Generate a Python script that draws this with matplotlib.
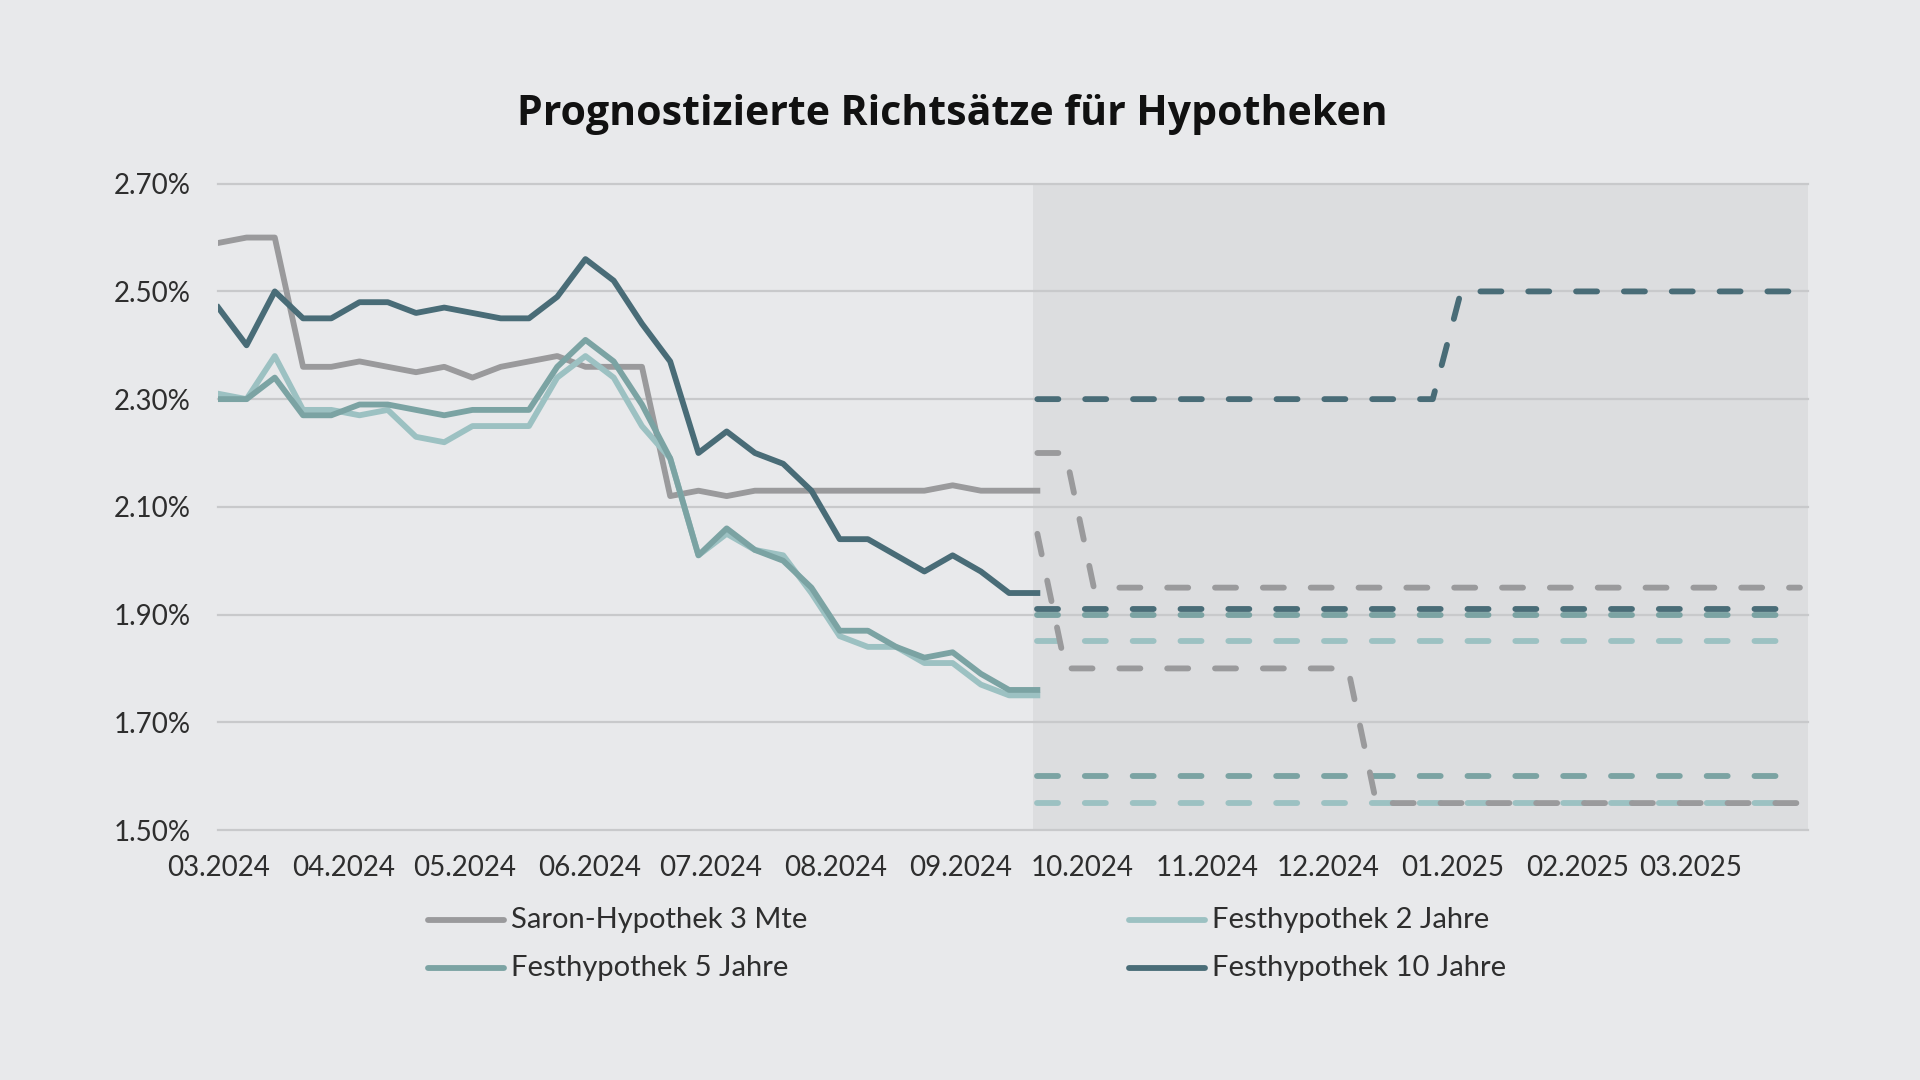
import matplotlib
matplotlib.use('Agg')
import matplotlib.pyplot as plt
import matplotlib.dates as mdates
from matplotlib.lines import Line2D
from matplotlib.ticker import FuncFormatter
import pandas as pd

plt.rcParams['font.family'] = ['Lato', 'DejaVu Sans']

# weekly reference rates (Fridays), 01.03.2024 - 20.09.2024
weeks = pd.date_range('2024-03-01', '2024-09-20', freq='7D')
saron = [2.59, 2.60, 2.60, 2.36, 2.36, 2.37, 2.36, 2.35, 2.36, 2.34,
         2.36, 2.37, 2.38, 2.36, 2.36, 2.36, 2.12, 2.13, 2.12, 2.13,
         2.13, 2.13, 2.13, 2.13, 2.13, 2.13, 2.14, 2.13, 2.13, 2.13]
fest_2 = [2.31, 2.30, 2.38, 2.28, 2.28, 2.27, 2.28, 2.23, 2.22, 2.25,
          2.25, 2.25, 2.34, 2.38, 2.34, 2.25, 2.19, 2.01, 2.05, 2.02,
          2.01, 1.94, 1.86, 1.84, 1.84, 1.81, 1.81, 1.77, 1.75, 1.75]
fest_5 = [2.30, 2.30, 2.34, 2.27, 2.27, 2.29, 2.29, 2.28, 2.27, 2.28,
          2.28, 2.28, 2.36, 2.41, 2.37, 2.29, 2.19, 2.01, 2.06, 2.02,
          2.00, 1.95, 1.87, 1.87, 1.84, 1.82, 1.83, 1.79, 1.76, 1.76]
fest_10 = [2.47, 2.40, 2.50, 2.45, 2.45, 2.48, 2.48, 2.46, 2.47, 2.46,
           2.45, 2.45, 2.49, 2.56, 2.52, 2.44, 2.37, 2.20, 2.24, 2.20,
           2.18, 2.13, 2.04, 2.04, 2.01, 1.98, 2.01, 1.98, 1.94, 1.94]

# forecast scenarios (only the corner points of each path)
fc_saron_hi_dates = ['2024-09-20', '2024-09-27', '2024-10-04', '2025-03-28']
fc_saron_hi = [2.20, 2.20, 1.95, 1.95]
fc_saron_lo_dates = ['2024-09-20', '2024-09-27', '2024-12-06', '2024-12-13', '2025-03-28']
fc_saron_lo = [2.05, 1.80, 1.80, 1.55, 1.55]
fc_10_hi_dates = ['2024-09-20', '2024-12-27', '2025-01-03', '2025-03-28']
fc_10_hi = [2.30, 2.30, 2.50, 2.50]
fc_flat_dates = ['2024-09-20', '2025-03-28']
fc_10_lo = [1.91, 1.91]
fc_5_hi = [1.90, 1.90]
fc_5_lo = [1.60, 1.60]
fc_2_hi = [1.85, 1.85]
fc_2_lo = [1.55, 1.55]

forecast_start = '2024-09-19'
y_ticks = [1.50, 1.70, 1.90, 2.10, 2.30, 2.50, 2.70]

labels = ['Saron-Hypothek 3 Mte', 'Festhypothek 2 Jahre',
          'Festhypothek 5 Jahre', 'Festhypothek 10 Jahre']

BG = '#e8e9eb'
SHADE = '#dcdddf'
GRID = '#c8c9cb'
C_SARON = '#9a9a9c'
C_2 = '#9cc1c2'
C_5 = '#7ba3a3'
C_10 = '#496c77'
TXT = '#2e2e2e'

LW = 4.2
DASH = (3.6, 4.6)

fig = plt.figure(figsize=(19.2, 10.8), dpi=100, facecolor=BG)
ax = fig.add_axes([218.3 / 1920, 1 - 830 / 1080, (1808 - 218.3) / 1920, (830 - 183.7) / 1080])
ax.set_facecolor(BG)

x0 = pd.Timestamp('2024-03-01')
x1 = pd.Timestamp('2025-03-30')
ax.set_xlim(x0, x1)
ax.set_ylim(1.50, 2.70)
ax.axvspan(pd.Timestamp(forecast_start), x1, color=SHADE, lw=0, zorder=0.2)

ax.set_yticks(y_ticks)
ax.yaxis.set_major_formatter(FuncFormatter(lambda v, _: f'{v:.2f}%'))
ax.xaxis.set_major_locator(mdates.MonthLocator())
ax.xaxis.set_major_formatter(mdates.DateFormatter('%m.%Y'))
ax.yaxis.grid(True, color=GRID, lw=1.6)
ax.set_axisbelow(True)
for gl in ax.get_ygridlines():
    gl.set_clip_on(False)
for s in ax.spines.values():
    s.set_visible(False)
ax.tick_params(axis='both', length=0, labelsize=20, colors=TXT)
ax.tick_params(axis='y', pad=20)
ax.tick_params(axis='x', pad=18)

# historic
ax.plot(weeks, saron, color=C_SARON, lw=LW, solid_joinstyle='round', zorder=3)
ax.plot(weeks, fest_2, color=C_2, lw=LW, solid_joinstyle='round', zorder=3)
ax.plot(weeks, fest_5, color=C_5, lw=LW, solid_joinstyle='round', zorder=3)
ax.plot(weeks, fest_10, color=C_10, lw=LW, solid_joinstyle='round', zorder=3)

# forecasts
def dashed(dates, vals, color):
    ax.plot(pd.to_datetime(dates), vals, color=color, lw=LW, dashes=DASH,
            dash_capstyle='round', dash_joinstyle='round', zorder=3)

dashed(fc_flat_dates, fc_2_hi, C_2)
dashed(fc_flat_dates, fc_2_lo, C_2)
dashed(fc_flat_dates, fc_5_hi, C_5)
dashed(fc_flat_dates, fc_5_lo, C_5)
dashed(fc_saron_hi_dates, fc_saron_hi, C_SARON)
dashed(fc_saron_lo_dates, fc_saron_lo, C_SARON)
dashed(fc_10_hi_dates, fc_10_hi, C_10)
dashed(fc_flat_dates, fc_10_lo, C_10)

# title
fig.text(952 / 1920, 1 - 125 / 1080, 'Prognostizierte Richtsätze für Hypotheken',
         fontsize=29.5, fontweight='bold', ha='center', va='baseline',
         color='#111111', family=['Open Sans', 'DejaVu Sans'])

# legend, two columns
legend_items = [(labels[0], C_SARON, 428, 920),
                (labels[1], C_2, 1129, 920),
                (labels[2], C_5, 428, 968),
                (labels[3], C_10, 1129, 968)]
for text, color, lx, ly in legend_items:
    yf = 1 - ly / 1080
    fig.add_artist(Line2D([lx / 1920, (lx + 76) / 1920], [yf, yf],
                          transform=fig.transFigure, color=color, lw=LW,
                          solid_capstyle='round'))
    fig.text((lx + 83) / 1920, 1 - (ly + 8) / 1080, text, fontsize=21,
             ha='left', va='baseline', color=TXT)

fig.savefig('out.png', dpi=100, facecolor=BG)
